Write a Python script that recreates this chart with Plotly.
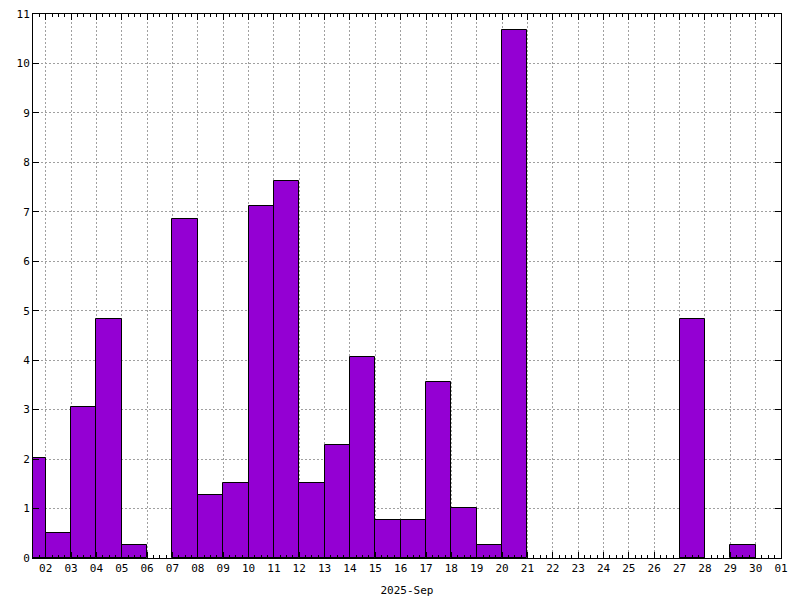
import plotly.graph_objects as go

days = [f"2025-09-{d:02d} 12:00" for d in range(1, 31)]
rain = [2.032, 0.508, 3.048, 4.826, 0.254, 0.0, 6.858, 1.27, 1.524, 7.112,
        7.62, 1.524, 2.286, 4.064, 0.762, 0.762, 3.556, 1.016, 0.254, 10.668,
        0.0, 0.0, 0.0, 0.0, 0.0, 0.0, 4.826, 0.0, 0.254, 0.0]
x_title = "2025-Sep"

DAY_MS = 86400000
FONT = "DejaVu Sans Mono"

fig = go.Figure(go.Bar(
    x=days, y=rain, width=[DAY_MS] * len(days),
    marker=dict(color="#9400D3",
                line=dict(color="black", width=[1 if v > 0 else 0 for v in rain])),
    hoverinfo="skip",
))

fig.update_layout(
    width=800, height=600,
    margin=dict(l=33, r=19, t=14, b=42, autoexpand=False),
    paper_bgcolor="white", plot_bgcolor="white",
    showlegend=False, bargap=0,
    font=dict(family=FONT, size=11, color="black"),
)

fig.update_xaxes(
    type="date", automargin=False,
    range=["2025-09-01 12:00", "2025-10-01 00:00"],
    tick0="2025-09-02", dtick=DAY_MS, tickformat="%d",
    ticks="inside", ticklen=6, tickcolor="black",
    showline=True, linecolor="black", linewidth=1, mirror="allticks",
    showgrid=True, gridcolor="#a0a0a0", griddash="2px,2px", gridwidth=1,
    minor=dict(dtick=DAY_MS / 4, tick0="2025-09-02", ticks="inside", ticklen=3,
               tickcolor="black", showgrid=False),
    title=dict(text=x_title, font=dict(family=FONT, size=11), standoff=12),
    zeroline=False,
)
fig.update_yaxes(
    automargin=False,
    range=[0, 11], dtick=1, tick0=0,
    ticks="inside", ticklen=6, tickcolor="black",
    showline=True, linecolor="black", linewidth=1, mirror="allticks",
    showgrid=True, gridcolor="#a0a0a0", griddash="2px,2px", gridwidth=1,
    zeroline=False,
)

fig.write_html("out.html", config={"displayModeBar": False},
               post_script="document.body.style.margin='0';document.body.style.overflow='hidden';")
